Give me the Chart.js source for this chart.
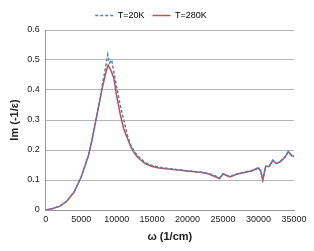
<!DOCTYPE html>
<html>
<head>
<meta charset="utf-8">
<script src="https://cdn.jsdelivr.net/npm/chart.js@4"></script>
<style>
  html, body { margin: 0; padding: 0; background: #fff; }
  #wrap { width: 314px; height: 251px; }
</style>
</head>
<body>
<div id="wrap"><canvas id="c" width="314" height="251"></canvas></div>
<script>
// ---------- DATA ----------
const omega280 = [0, 1000, 2000, 3000, 4000, 5000, 6000, 6500, 7000, 7500, 8000, 8500, 8800, 9200, 9600, 10000, 10500, 11000, 11500, 12000, 12500, 13000, 14000, 15000, 16000, 18000, 20000, 22000, 23000, 24000, 24500, 25000, 25500, 26000, 27000, 28000, 29000, 30000, 30300, 30600, 31000, 31500, 32000, 32500, 33000, 33700, 34200, 34700, 35000];
const im280 = [0, 0.005, 0.013, 0.03, 0.06, 0.11, 0.18, 0.23, 0.29, 0.35, 0.41, 0.46, 0.483, 0.465, 0.44, 0.38, 0.32, 0.27, 0.24, 0.21, 0.19, 0.175, 0.155, 0.145, 0.14, 0.135, 0.13, 0.125, 0.12, 0.11, 0.105, 0.12, 0.115, 0.11, 0.12, 0.125, 0.13, 0.14, 0.13, 0.10, 0.145, 0.145, 0.165, 0.155, 0.16, 0.175, 0.195, 0.18, 0.18];

const omega20 = [0, 1000, 2000, 3000, 4000, 5000, 6000, 6500, 7000, 7500, 8000, 8400, 8750, 9000, 9300, 9600, 10000, 10500, 11000, 11500, 12000, 12500, 13000, 14000, 15000, 16000, 18000, 20000, 22000, 23000, 24000, 24500, 25000, 25500, 26000, 27000, 28000, 29000, 30000, 30300, 30600, 31000, 31500, 32000, 32500, 33000, 33700, 34200, 34700, 35000];
const im20 = [0, 0.005, 0.013, 0.03, 0.06, 0.11, 0.18, 0.23, 0.29, 0.35, 0.42, 0.47, 0.518, 0.49, 0.50, 0.46, 0.41, 0.35, 0.30, 0.25, 0.215, 0.195, 0.18, 0.158, 0.148, 0.142, 0.136, 0.131, 0.126, 0.122, 0.113, 0.107, 0.121, 0.116, 0.112, 0.121, 0.126, 0.131, 0.141, 0.131, 0.101, 0.146, 0.146, 0.166, 0.156, 0.161, 0.176, 0.195, 0.181, 0.181];

const seriesNames = ["T=20K", "T=280K"];
const xTicks = [0, 5000, 10000, 15000, 20000, 25000, 30000, 35000];
const yTicks = [0, 0.1, 0.2, 0.3, 0.4, 0.5, 0.6];

const toPoints = (xs, ys) => xs.map((x, i) => ({ x, y: ys[i] }));

const font = { family: "'Liberation Sans', Arial, sans-serif", size: 9 };
const titleFont = { ...font, size: 11, weight: "bold" };

new Chart(document.getElementById("c"), {
  type: "scatter",
  data: {
    datasets: [
      {
        label: seriesNames[0],
        data: toPoints(omega20, im20),
        showLine: true,
        borderColor: "#4F81BD",
        backgroundColor: "#4F81BD",
        borderWidth: 1.5,
        borderDash: [3, 2],
        pointRadius: 0,
        tension: 0
      },
      {
        label: seriesNames[1],
        data: toPoints(omega280, im280),
        showLine: true,
        borderColor: "#C0504D",
        backgroundColor: "#C0504D",
        borderWidth: 1.5,
        pointRadius: 0,
        tension: 0
      }
    ]
  },
  options: {
    responsive: false,
    animation: false,
    layout: { padding: { left: 8, right: 20, top: 3, bottom: 7 } },
    plugins: {
      tooltip: { enabled: false },
      legend: {
        position: "top",
        labels: {
          font,
          color: "#222",
          usePointStyle: true,
          pointStyleWidth: 18,
          padding: 8,
          generateLabels: chart => chart.data.datasets.map((ds, i) => ({
            text: ds.label,
            strokeStyle: ds.borderColor,
            fillStyle: ds.borderColor,
            lineWidth: 1.5,
            lineDash: ds.borderDash || [],
            pointStyle: "line",
            datasetIndex: i
          }))
        }
      }
    },
    scales: {
      x: {
        type: "linear",
        min: 0,
        max: 35000,
        afterBuildTicks: s => { s.ticks = xTicks.map(v => ({ value: v })); },
        ticks: { font, color: "#222", callback: v => String(v), maxRotation: 0, padding: 4 },
        grid: { display: false, drawTicks: false },
        border: { display: true, color: "#999" },
        title: { display: true, text: "ω (1/cm)", font: titleFont, color: "#222", padding: { top: 2, bottom: 0 } }
      },
      y: {
        min: 0,
        max: 0.6,
        afterBuildTicks: s => { s.ticks = yTicks.map(v => ({ value: v })); },
        ticks: { font, color: "#222", callback: v => String(v), padding: 6 },
        grid: { color: "#b5b5b5", drawTicks: false },
        border: { display: true, color: "#999" },
        title: { display: true, text: "Im (-1/ε)", font: titleFont, color: "#222", padding: { top: 0, bottom: 0 } }
      }
    }
  }
});
</script>
</body>
</html>
